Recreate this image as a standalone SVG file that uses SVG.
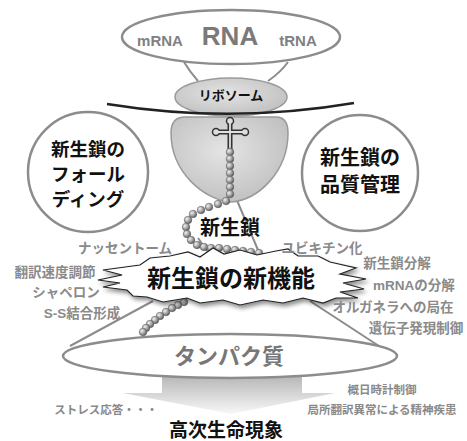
<svg xmlns="http://www.w3.org/2000/svg" width="467" height="441" viewBox="0 0 467 441">
  <defs>
    <style>
      .outline { fill: #fff; stroke: #8c8c8c; stroke-width: 2.5; }
      .link { fill: none; stroke: #8c8c8c; stroke-width: 2; }
      .jp { font-family: 'Noto Sans CJK JP', sans-serif; font-weight: bold; text-anchor: middle; }
      .lat { font-family: 'Liberation Sans', 'Noto Sans CJK JP', sans-serif; font-weight: bold; text-anchor: middle; }
      .dark { fill: #111; }
      .grey { fill: #8a8a8a; }
      .note { font-size: 13.5px; }
      .small { font-size: 11.5px; }
      .bead { fill: url(#beadFill); stroke: #555; stroke-width: 0.5; }
    </style>
    <radialGradient id="beadFill" cx="0.35" cy="0.35" r="0.7">
      <stop offset="0" stop-color="#f2f2f2"/>
      <stop offset="0.6" stop-color="#9a9a9a"/>
      <stop offset="1" stop-color="#555"/>
    </radialGradient>
    <radialGradient id="subunitFill" cx="0.45" cy="0.4" r="0.7">
      <stop offset="0" stop-color="#e4e4e4"/>
      <stop offset="1" stop-color="#bcbcbc"/>
    </radialGradient>
    <linearGradient id="arrowFill" x1="0" y1="0" x2="0" y2="1">
      <stop offset="0" stop-color="#a9a9a9"/>
      <stop offset="1" stop-color="#f8f8f8"/>
    </linearGradient>
    <filter id="shadow" x="-10%" y="-20%" width="125%" height="150%">
      <feDropShadow dx="2" dy="3" stdDeviation="2" flood-color="#000" flood-opacity="0.45"/>
    </filter>
  </defs>

  <rect width="467" height="441" fill="#fff"/>

  <!-- connectors: necks and funnels between the shapes -->
  <g id="connectors">
    <path class="link" d="M184,62 Q190,72 198,81"/>
    <path class="link" d="M288,62 Q281,72 268,81"/>
    <path class="link" d="M236,198 L258,250" stroke="#9a9a9a" stroke-width="1.5"/>
    <path class="link" d="M198,238 L208,252" stroke="#9a9a9a" stroke-width="1.5"/>
    <path class="link" d="M153,301 L70,346"/>
    <path class="link" d="M310,301 L382,348"/>
  </g>

  <!-- RNA -->
  <g id="rna">
    <ellipse class="outline" cx="231" cy="37" rx="109" ry="27"/>
    <text class="lat" x="160" y="46" font-size="15" fill="#808080">mRNA</text>
    <text class="lat" x="230" y="45" font-size="26" fill="#7a7a7a">RNA</text>
    <text class="lat" x="298" y="46" font-size="15" fill="#808080">tRNA</text>
  </g>

  <!-- ribosome: large and small subunit, membrane line, tRNA cross -->
  <g id="ribosome">
    <path d="M185,117 L276,117 Q288,117 288,133 C288,172 258,200 231,202 C204,200 171,172 171,133 Q171,117 185,117 Z" fill="url(#subunitFill)" stroke="#9a9a9a" stroke-width="1.5"/>
    <ellipse cx="231" cy="97" rx="56" ry="19" fill="url(#subunitFill)" stroke="#9a9a9a" stroke-width="1.5"/>
    <text class="jp dark" x="231" y="100" font-size="13">リボソーム</text>
    <path d="M107,104 Q231,124 354,103" fill="none" stroke="#222" stroke-width="2.5"/>
    <g id="trna">
      <path d="M230,121 L230,149 M216,132 L245,132" stroke="#333" stroke-width="5" stroke-linecap="round" fill="none"/>
      <circle cx="230" cy="121" r="3.5" fill="#ddd" stroke="#333" stroke-width="1.5"/>
      <circle cx="216" cy="132" r="3.5" fill="#ddd" stroke="#333" stroke-width="1.5"/>
      <circle cx="245" cy="132" r="3.5" fill="#ddd" stroke="#333" stroke-width="1.5"/>
      <path d="M230,122 L230,148 M217,132 L244,132" stroke="#e0e0e0" stroke-width="1.8" stroke-linecap="round" fill="none"/>
    </g>
  </g>

  <!-- nascent chain inside and below the ribosome -->
  <g id="chain-upper">
    <circle class="bead" cx="230" cy="152" r="3.8"/>
    <circle class="bead" cx="230" cy="159" r="3.8"/>
    <circle class="bead" cx="230" cy="166" r="3.8"/>
    <circle class="bead" cx="230" cy="173" r="3.8"/>
    <circle class="bead" cx="230" cy="180" r="3.8"/>
    <circle class="bead" cx="230" cy="187" r="3.8"/>
    <circle class="bead" cx="230" cy="194" r="3.8"/>
    <circle class="bead" cx="226" cy="201" r="3.8"/>
    <circle class="bead" cx="218" cy="204" r="3.8"/>
    <circle class="bead" cx="209" cy="207" r="3.8"/>
    <circle class="bead" cx="201" cy="210" r="3.8"/>
    <circle class="bead" cx="193" cy="214" r="3.8"/>
    <circle class="bead" cx="188" cy="220" r="3.8"/>
    <circle class="bead" cx="186" cy="227" r="3.8"/>
    <circle class="bead" cx="187" cy="234" r="3.8"/>
    <circle class="bead" cx="191" cy="240" r="3.8"/>
    <circle class="bead" cx="197" cy="245" r="3.8"/>
    <circle class="bead" cx="204" cy="247" r="3.8"/>
    <circle class="bead" cx="211" cy="248" r="3.8"/>
    <circle class="bead" cx="219" cy="248" r="3.8"/>
    <circle class="bead" cx="227" cy="249" r="3.8"/>
    <circle class="bead" cx="235" cy="250" r="3.8"/>
    <circle class="bead" cx="243" cy="251" r="3.8"/>
    <circle class="bead" cx="251" cy="252" r="3.8"/>
    <circle class="bead" cx="259" cy="253" r="3.8"/>
  </g>
  <g id="nascent-label">
    <text class="jp dark" x="230" y="235" font-size="20">新生鎖</text>
  </g>

  <!-- folding circle -->
  <g id="folding">
    <circle class="outline" cx="88" cy="172" r="60"/>
    <text class="jp dark" x="88" y="156" font-size="18.5">新生鎖の</text>
    <text class="jp dark" x="88" y="181" font-size="18.5">フォール</text>
    <text class="jp dark" x="88" y="206" font-size="18.5">ディング</text>
  </g>

  <!-- quality control circle -->
  <g id="quality">
    <circle class="outline" cx="360" cy="173" r="58"/>
    <text class="jp dark" x="360" y="165" font-size="20">新生鎖の</text>
    <text class="jp dark" x="360" y="192" font-size="20">品質管理</text>
  </g>

  <!-- higher-order phenomena arrow -->
  <g id="arrow">
    <path d="M162,368 L302,368 L302,393 L335,393 L231,414 L123,393 L162,393 Z" fill="url(#arrowFill)"/>
    <text class="jp dark" x="226" y="437" font-size="19">高次生命現象</text>
  </g>

  <!-- protein -->
  <g id="protein">
    <ellipse class="outline" cx="230" cy="356" rx="167" ry="22"/>
    <text class="jp" x="229" y="364" font-size="22" fill="#777">タンパク質</text>
  </g>

  <!-- chain emerging below the burst -->
  <g id="chain-lower">
    <circle class="bead" cx="184" cy="302" r="3.8"/>
    <circle class="bead" cx="178" cy="305" r="3.8"/>
    <circle class="bead" cx="172" cy="308" r="3.8"/>
    <circle class="bead" cx="166" cy="312" r="3.8"/>
    <circle class="bead" cx="160" cy="316" r="3.8"/>
    <circle class="bead" cx="155" cy="320" r="3.8"/>
    <circle class="bead" cx="150" cy="324" r="3.8"/>
    <circle class="bead" cx="146" cy="328" r="3.8"/>
    <circle class="bead" cx="143" cy="332" r="3.8"/>
  </g>

  <!-- burst: new functions of the nascent chain -->
  <g id="new-function">
    <polygon filter="url(#shadow)" fill="#fff" stroke="#222" stroke-width="1.2" stroke-linejoin="miter"
      points="150,258 170,256 188,252 200,257 213,248 224,254 240,250 257,255 276,251 288,249 298,256 318,256 330,262 356,268 340,274 366,279 343,283 364,289 340,292 358,298 336,298 323,303 303,298 283,303 263,300 240,305 223,300 200,303 187,298 163,302 147,297 133,296 127,290 103,287 120,283 98,280 122,275 103,270 140,265"/>
    <text class="jp dark" x="231" y="287" font-size="24">新生鎖の新機能</text>
  </g>

  <!-- side notes -->
  <g id="notes-left">
    <text class="jp grey note" x="125" y="253">ナッセントーム</text>
    <text class="jp grey note" x="55" y="277">翻訳速度調節</text>
    <text class="jp grey note" x="66" y="297">シャペロン</text>
    <text class="lat grey note" x="82" y="318">S-S結合形成</text>
  </g>
  <g id="notes-right">
    <text class="jp grey note" x="322" y="253">ユビキチン化</text>
    <text class="jp grey note" x="397" y="268">新生鎖分解</text>
    <text class="lat grey note" x="414" y="290">mRNAの分解</text>
    <text class="jp grey note" x="393" y="312">オルガネラへの局在</text>
    <text class="jp grey note" x="416" y="333">遺伝子発現制御</text>
  </g>
  <g id="notes-bottom">
    <text class="jp grey small" x="382" y="394">概日時計制御</text>
    <text class="jp grey small" x="382" y="414">局所翻訳異常による精神疾患</text>
    <text class="jp grey small" x="106" y="414">ストレス応答・・・</text>
  </g>
</svg>
